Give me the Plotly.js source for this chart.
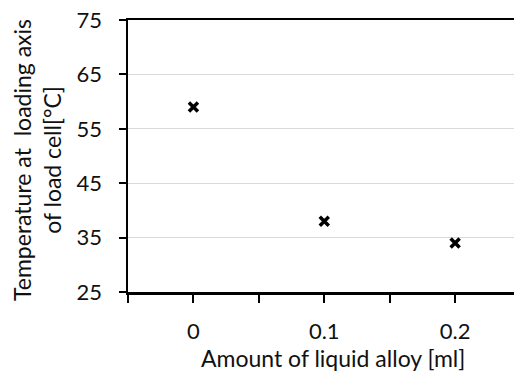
<!DOCTYPE html>
<html><head><meta charset="utf-8">
<script src="https://cdn.plot.ly/plotly-3.0.1.min.js"></script>
<style>html,body{margin:0;padding:0;background:#fff;overflow:hidden}</style>
</head><body><div id="chart" style="width:515px;height:374px"></div>
<script>
const amounts = [0, 0.1, 0.2];
const temps = [59, 38, 34];
const xTickVals = [-0.05, 0, 0.05, 0.1, 0.15, 0.2];
const xTickText = ["", "0", "", "0.1", "", "0.2"];
const yTickVals = [25, 35, 45, 55, 65, 75];
const xTitle = "Amount of liquid alloy [ml]";
const yTitle = "Temperature at  loading axis<br>of load cell[°C]";

const font = "Lato, 'Open Sans', sans-serif";
Plotly.newPlot("chart", [{
  x: amounts, y: temps, type: "scatter", mode: "markers",
  marker: {symbol: "x-thin", size: 9, color: "#000", line: {width: 3.5, color: "#000"}},
  hoverinfo: "skip"
}], {
  width: 515, height: 374,
  margin: {l: 128, r: 1, t: 20, b: 82},
  paper_bgcolor: "#fff", plot_bgcolor: "#fff",
  showlegend: false,
  font: {family: font, size: 22, color: "#000"},
  xaxis: {
    range: [-0.05, 0.245], tickmode: "array", tickvals: xTickVals, ticktext: xTickText,
    ticks: "outside", ticklen: 8, tickwidth: 2, tickcolor: "#000",
    showline: true, linewidth: 2.5, linecolor: "#000", mirror: true,
    showgrid: false, zeroline: false, ticklabelstandoff: 10,
    tickfont: {family: font, size: 22, color: "#111"}
  },
  yaxis: {
    range: [25, 75], tickmode: "array", tickvals: yTickVals,
    ticks: "outside", ticklen: 7, tickwidth: 2, tickcolor: "#000",
    showline: true, linewidth: 2.5, linecolor: "#000",
    showgrid: true, gridcolor: "#d9d9d9", gridwidth: 1, zeroline: false,
    ticklabelstandoff: 12,
    tickfont: {family: font, size: 22, color: "#111"}
  },
  annotations: [
    {text: xTitle, xref: "paper", yref: "paper", x: 0.53, y: -0.243, xanchor: "center", yanchor: "middle",
     showarrow: false, font: {family: font, size: 23, color: "#111"}},
    {text: yTitle, xref: "paper", yref: "paper", x: -0.236, y: 0.485, xanchor: "center", yanchor: "middle",
     textangle: -90, showarrow: false, font: {family: font, size: 23, color: "#111"}}
  ]
}, {staticPlot: true});
</script></body></html>
